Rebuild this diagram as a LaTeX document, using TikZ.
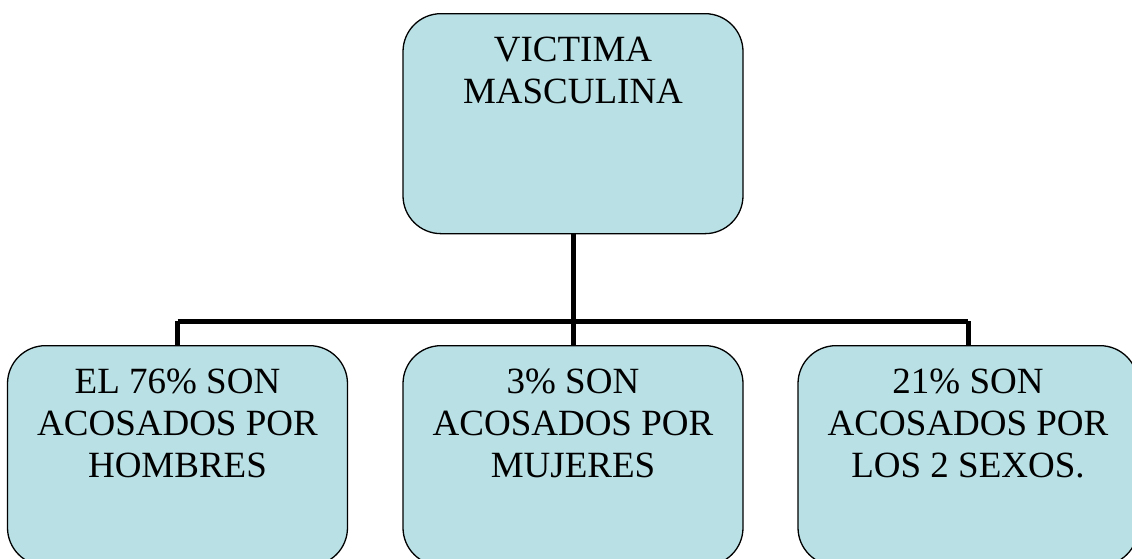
\documentclass[tikz,border=0pt]{standalone}
\usepackage{fontspec}
\setmainfont{Liberation Serif}
\definecolor{boxfill}{RGB}{185,224,228}
\begin{document}
\begin{tikzpicture}[x=1pt,y=-1pt,
  box/.style={draw=black, line width=1.3pt, fill=boxfill, rounded corners=38pt,
    minimum width=340pt, minimum height=220pt, anchor=north, inner sep=0pt},
  boxtext/.style={anchor=north, align=center, inner sep=0pt,
    font=\fontsize{37}{42}\selectfont},
  conn/.style={draw=black, line width=5pt}]
\useasboundingbox (0,0) rectangle (1132,558);
\node[box] (top) at (573,13) {};
\node[box] (left) at (177.5,345) {};
\node[box] (mid) at (573,345) {};
\node[box] (right) at (968,345) {};
\node[boxtext] (toptext) at ([yshift=-24pt]top.north) {VICTIMA\\MASCULINA};
\node[boxtext] (lefttext) at ([yshift=-24pt]left.north) {EL 76\% SON\\ACOSADOS POR\\HOMBRES};
\node[boxtext] (midtext) at ([yshift=-24pt]mid.north) {3\% SON\\ACOSADOS POR\\MUJERES};
\node[boxtext] (righttext) at ([yshift=-24pt]right.north) {21\% SON\\ACOSADOS POR\\LOS 2 SEXOS.};
\coordinate (hub) at (573,321);
\coordinate (hl) at (177.5,321);
\coordinate (hr) at (968,321);
\draw[conn] (top.south) -- (hub);
\draw[conn] (hl) -- (hr);
\draw[conn] (hl) -- (left.north);
\draw[conn] (hub) -- (mid.north);
\draw[conn] (hr) -- (right.north);
\end{tikzpicture}
\end{document}
